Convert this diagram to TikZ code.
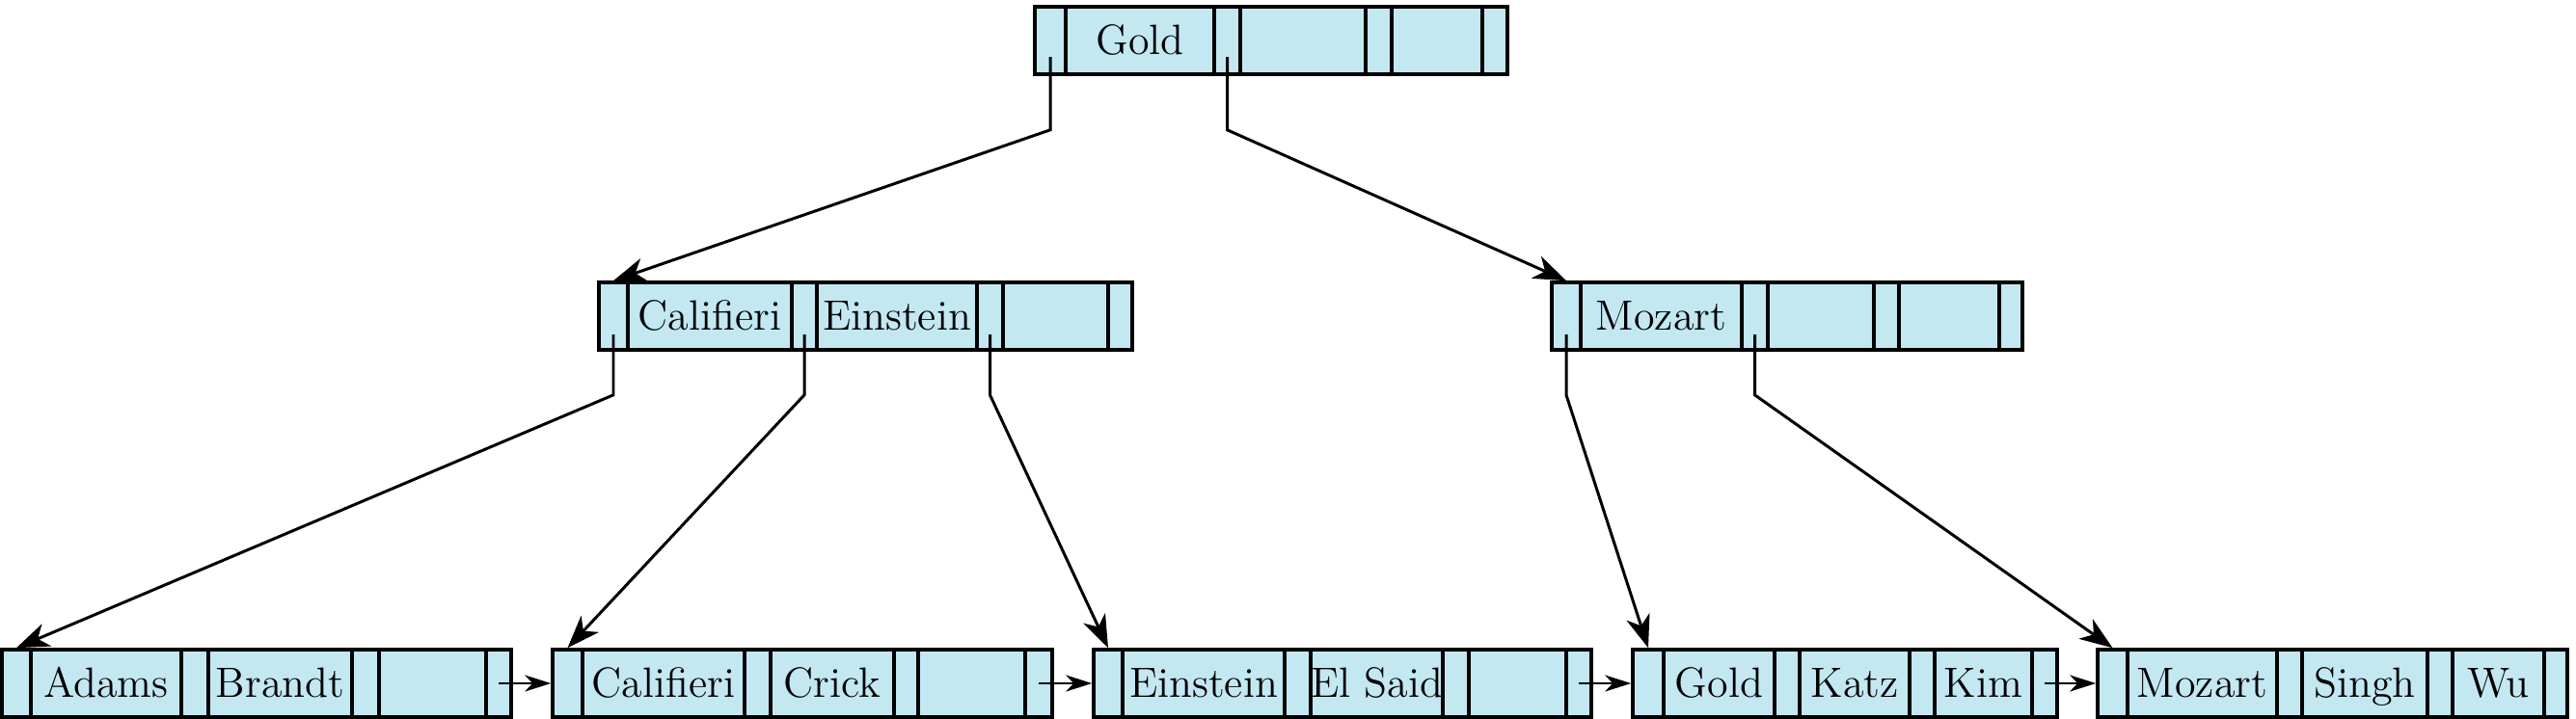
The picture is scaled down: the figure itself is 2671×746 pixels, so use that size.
\documentclass[tikz,border=0pt]{standalone}
\usepackage{tikz}
\usetikzlibrary{arrows.meta}

\definecolor{bfill}{RGB}{195,232,242}

\begin{document}
\begin{tikzpicture}[
  x=0.01cm, y=-0.01cm,
  cell/.style={draw, line width=1pt, fill=bfill, minimum height=0.7cm, inner sep=0pt,
    text height=9.8pt, text depth=1.6pt, font=\fontsize{12.5}{14}\selectfont},
  link/.style={line width=0.85pt, -{Stealth[length=3.4mm, width=2.5mm, inset=1mm]}},
  next/.style={line width=0.85pt, -{Stealth[length=2.7mm, width=1.7mm, inset=0.8mm]}},
]
\useasboundingbox (0,0) rectangle (2671,746);

% root
\foreach \a/\b/\t [count=\i from 0] in {1073/1105/{}, 1105/1259/Gold, 1259/1286/{}, 1286/1416/{}, 1416/1443/{}, 1443/1537/{}, 1537/1563/{}}
  \node[cell, minimum width={(\b-\a)*0.01cm}] (rt-\i) at ({(\a+\b)/2},42) {\t};

% inner level
\foreach \a/\b/\t [count=\i from 0] in {621/651/{}, 651/821/Califieri, 821/847/{}, 847/1013/Einstein, 1013/1040/{}, 1040/1149/{}, 1149/1174/{}}
  \node[cell, minimum width={(\b-\a)*0.01cm}] (in1-\i) at ({(\a+\b)/2},328) {\t};
\foreach \a/\b/\t [count=\i from 0] in {1609/1639/{}, 1639/1806/Mozart, 1806/1833/{}, 1833/1943/{}, 1943/1969/{}, 1969/2073/{}, 2073/2097/{}}
  \node[cell, minimum width={(\b-\a)*0.01cm}] (in2-\i) at ({(\a+\b)/2},328) {\t};

% leaves
\foreach \a/\b/\t [count=\i from 0] in {2/32/{}, 32/188/Adams, 188/216/{}, 216/365/Brandt, 365/393/{}, 393/504/{}, 504/530/{}}
  \node[cell, minimum width={(\b-\a)*0.01cm}] (lf1-\i) at ({(\a+\b)/2},709) {\t};
\foreach \a/\b/\t [count=\i from 0] in {573/604/{}, 604/772/Califieri, 772/799/{}, 799/927/Crick, 927/952/{}, 952/1063/{}, 1063/1091/{}}
  \node[cell, minimum width={(\b-\a)*0.01cm}] (lf2-\i) at ({(\a+\b)/2},709) {\t};
\foreach \a/\b/\t [count=\i from 0] in {1134/1164/{}, 1164/1332/Einstein, 1332/1359/{}, 1359/1496/El Said, 1496/1523/{}, 1523/1624/{}, 1624/1650/{}}
  \node[cell, minimum width={(\b-\a)*0.01cm}] (lf3-\i) at ({(\a+\b)/2},709) {\t};
\foreach \a/\b/\t [count=\i from 0] in {1693/1725/{}, 1725/1840/Gold, 1840/1866/{}, 1866/1980/Katz, 1980/2006/{}, 2006/2107/Kim, 2107/2133/{}}
  \node[cell, minimum width={(\b-\a)*0.01cm}] (lf4-\i) at ({(\a+\b)/2},709) {\t};
\foreach \a/\b/\t [count=\i from 0] in {2175/2206/{}, 2206/2361/Mozart, 2361/2387/{}, 2387/2517/Singh, 2517/2543/{}, 2543/2638/Wu, 2638/2662/{}}
  \node[cell, minimum width={(\b-\a)*0.01cm}] (lf5-\i) at ({(\a+\b)/2},709) {\t};

% child pointers
\draw[link] ([yshift=-1.7mm]rt-0.center) -- ([yshift=-5.6mm]rt-0.south) -- (in1-0.north);
\draw[link] ([yshift=-1.7mm]rt-2.center) -- ([yshift=-5.6mm]rt-2.south) -- (in2-0.north);
\draw[link] ([yshift=-1.9mm]in1-0.center) -- ([yshift=-4.5mm]in1-0.south) -- (lf1-0.north);
\draw[link] ([yshift=-1.9mm]in1-2.center) -- ([yshift=-4.5mm]in1-2.south) -- (lf2-0.north);
\draw[link] ([yshift=-1.9mm]in1-4.center) -- ([yshift=-4.5mm]in1-4.south) -- (lf3-0.north);
\draw[link] ([yshift=-1.9mm]in2-0.center) -- ([yshift=-4.5mm]in2-0.south) -- (lf4-0.north);
\draw[link] ([yshift=-1.9mm]in2-2.center) -- ([yshift=-4.5mm]in2-2.south) -- (lf5-0.north);

% leaf chain
\draw[next] (lf1-6.center) -- (lf2-0.west);
\draw[next] (lf2-6.center) -- (lf3-0.west);
\draw[next] (lf3-6.center) -- (lf4-0.west);
\draw[next] (lf4-6.center) -- (lf5-0.west);
\end{tikzpicture}
\end{document}
